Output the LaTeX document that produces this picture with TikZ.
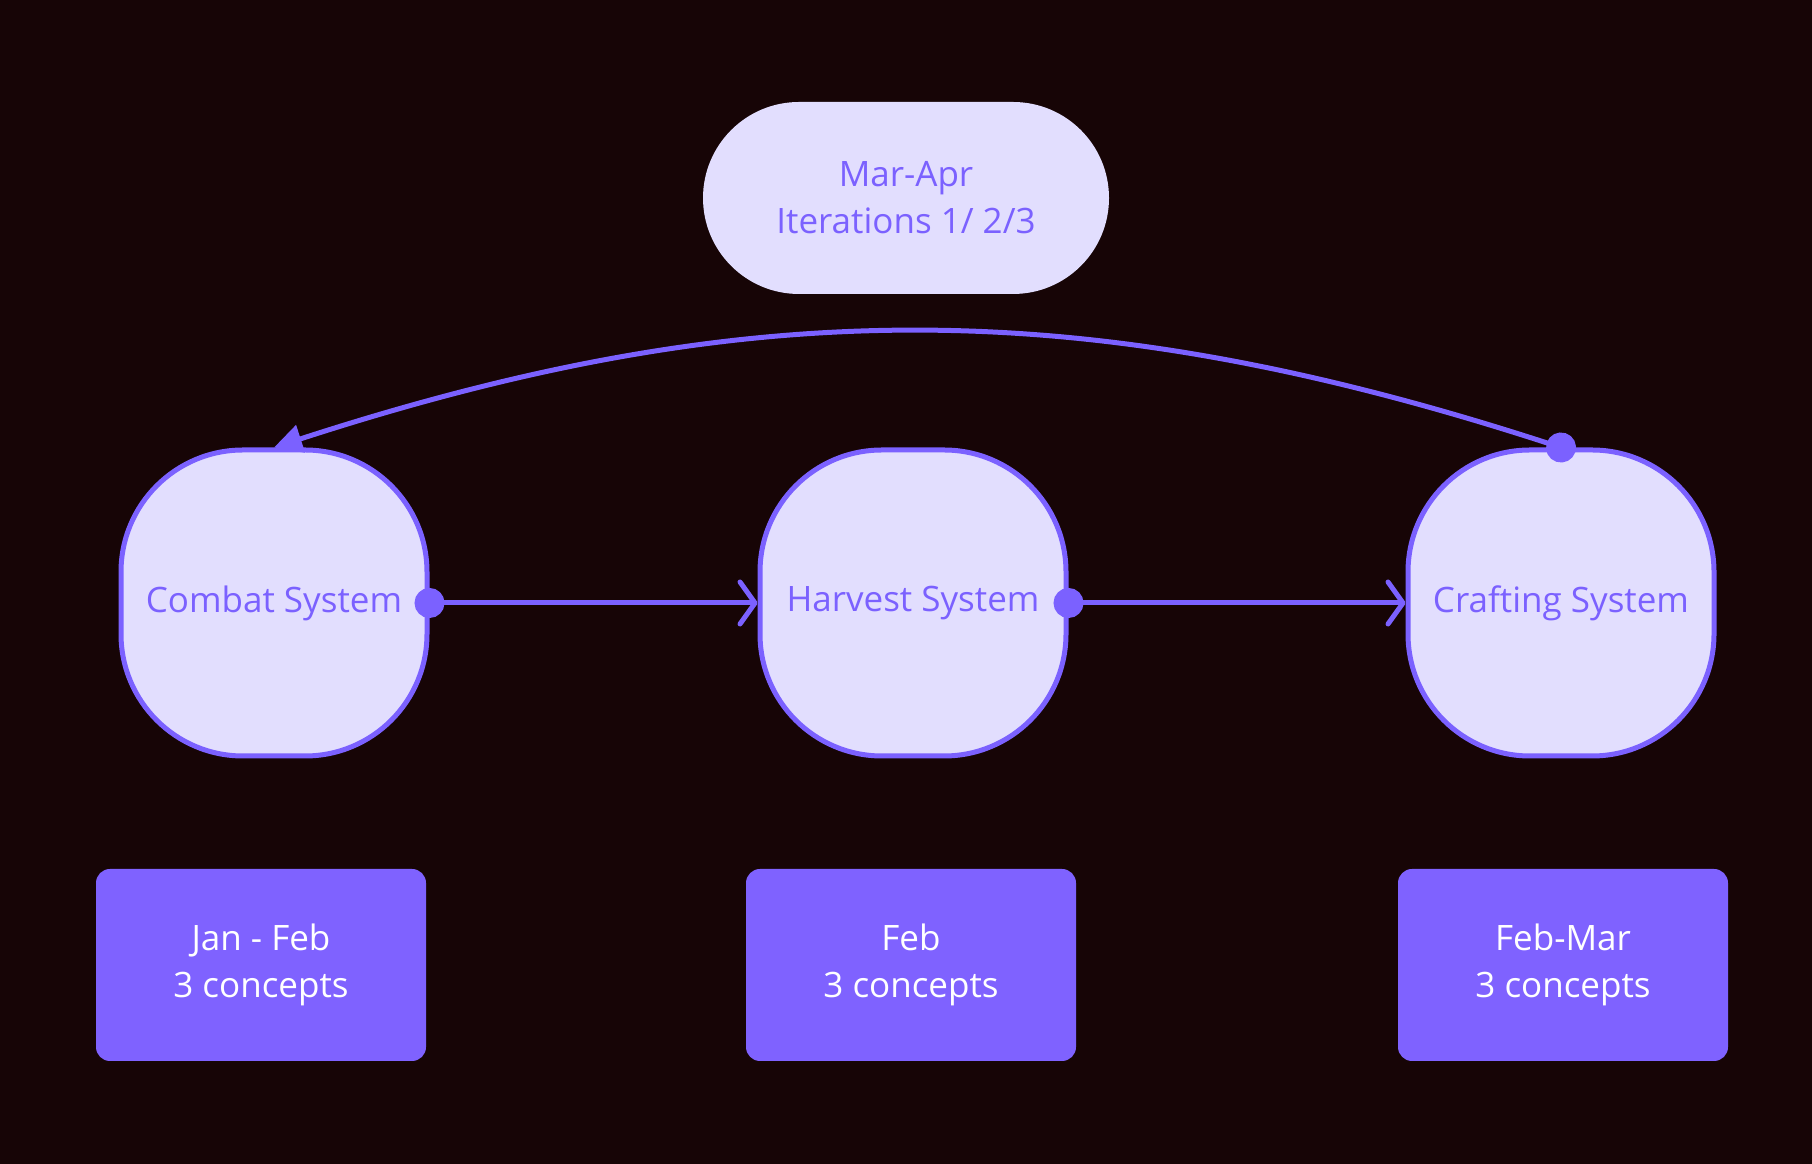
\documentclass[tikz,border=0pt]{standalone}
\usepackage{fontspec}
\setmainfont{Open Sans}
\usetikzlibrary{arrows.meta, positioning}

\definecolor{bgdark}{HTML}{170506}
\definecolor{violet}{HTML}{7B61FF}
\definecolor{lilac}{HTML}{E2DEFE}
\definecolor{boxviolet}{HTML}{7F62FF}

\begin{document}
\begin{tikzpicture}[x=1pt, y=1pt, font=\fontsize{35}{47}\selectfont,
  system/.style={draw=violet, line width=5pt, fill=lilac, text=violet,
    rounded corners=122pt, minimum width=306pt, minimum height=306pt, inner sep=0pt},
  phase/.style={fill=lilac, text=violet, rounded corners=96pt,
    minimum width=406pt, minimum height=192pt, align=center},
  period/.style={fill=boxviolet, text=white, rounded corners=14pt,
    minimum width=330pt, minimum height=192pt, align=center},
  link/.style={draw=violet, line width=5pt, shorten <=-15pt}
]

% Background
\fill[bgdark] (0,0) rectangle (1812,1164);

% Systems
\node[system] (combat) at (274,561) {Combat System};
\node[system] (harvest) at (913,561) {Harvest System};
\node[system] (crafting) at (1561,561) {Crafting System};

% Iterations
\node[phase] (iter) at (906,966) {Mar-Apr\\Iterations 1/ 2/3};

% Periods
\node[period] (jan) at (261,199) {Jan - Feb\\3 concepts};
\node[period] (feb) at (911,199) {Feb\\3 concepts};
\node[period] (mar) at (1563,199) {Feb-Mar\\3 concepts};

% Links
\draw[link, {Circle[length=30pt]}-{Straight Barb[length=15pt, width=42pt, line width=5pt, round]}]
  (combat.east) -- (harvest.west);
\draw[link, {Circle[length=30pt]}-{Straight Barb[length=15pt, width=42pt, line width=5pt, round]}]
  (harvest.east) -- (crafting.west);
\draw[link, {Circle[length=30pt]}-{Triangle[length=28pt, width=28pt]}]
  (crafting.north) .. controls +(162:500pt) and +(18:500pt) .. (combat.north);

\end{tikzpicture}
\end{document}
